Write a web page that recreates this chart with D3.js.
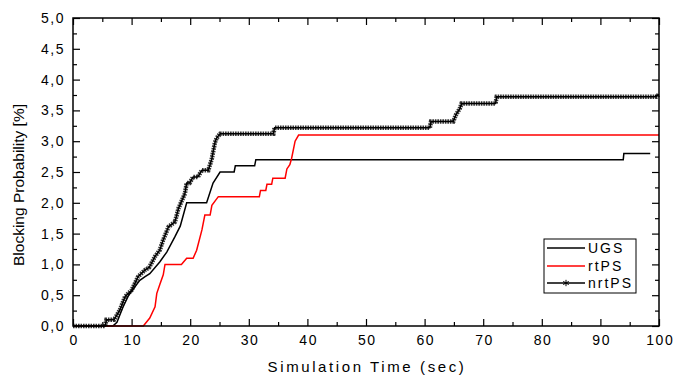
<!DOCTYPE html>
<html><head><meta charset="utf-8">
<script src="https://cdn.jsdelivr.net/npm/d3@7"></script>
<style>
body{margin:0;background:#fff;}
svg{display:block;font-family:Arial,"Liberation Sans",sans-serif;}
</style></head>
<body><svg id="chart" width="675" height="375"></svg>
<script>
// ---- data ----
const xTicks = [0,10,20,30,40,50,60,70,80,90,100];
const yTicks = [0,0.5,1,1.5,2,2.5,3,3.5,4,4.5,5];
const xMinor = [5,15,25,35,45,55,65,75,85,95];
const yMinor = [0.25,0.75,1.25,1.75,2.25,2.75,3.25,3.75,4.25,4.75];
const seriesNames = ["UGS","rtPS","nrtPS"];
const ugsT = [0,6.8,7.5,8.5,9.5,10.6,11.4,12.3,13.1,14.8,16,17.4,18.3,19.4,22.8,23.9,25.1,27.5,27.7,31.0,31.2,93.9,94.0,98.5];
const ugsV = [0,0,0.06,0.3,0.5,0.64,0.74,0.8,0.85,1.04,1.2,1.45,1.62,2.0,2.0,2.32,2.5,2.5,2.6,2.6,2.7,2.7,2.8,2.8];
const rtT = [0,12,13.1,14,14.3,14.8,15.4,15.7,18.5,19.4,20.5,21.1,22,22.5,23.4,23.7,24.8,31.8,32.0,32.9,33.1,33.9,34.1,36.2,36.5,37.0,37.3,37.9,38.5,100];
const rtV = [0,0,0.13,0.31,0.53,0.67,0.83,1.0,1.0,1.1,1.1,1.23,1.56,1.8,1.8,1.96,2.1,2.1,2.2,2.2,2.3,2.3,2.4,2.4,2.55,2.62,2.72,3.0,3.1,3.1];
const nrtT = [0,5.5,5.7,7.0,8,8.9,10,11.1,12.3,13,14,14.8,15.4,16.3,17.4,18,19.1,19.4,19.9,20.5,21.3,22,23.1,23.7,24.2,24.5,25.1,34.2,34.4,60.9,61.1,64.9,65.3,66,66.3,72.1,72.3,99.5,100];
const nrtV = [0,0,0.1,0.1,0.26,0.48,0.58,0.8,0.91,0.95,1.13,1.23,1.4,1.61,1.69,1.91,2.15,2.32,2.32,2.42,2.42,2.53,2.53,2.72,2.97,3.05,3.12,3.12,3.22,3.22,3.32,3.32,3.42,3.53,3.61,3.61,3.72,3.72,3.76];

const svg = d3.select("#chart");
const L=73,R=659,T=18,B=326;
const x = d3.scaleLinear().domain([0,100]).range([L,R]);
const y = d3.scaleLinear().domain([0,5]).range([B,T]);
const fmt = d=>d3.format(".1f")(d).replace(".",",");

function styleAxis(g){
  g.select(".domain").remove();
  g.selectAll("line").attr("stroke","#000").attr("stroke-width",1.2);
  g.selectAll("text").attr("font-size",14).attr("fill","#000").attr("font-family",'Arial,"Liberation Sans",sans-serif');
}
// bottom
svg.append("g").attr("transform",`translate(0,${B})`)
  .call(d3.axisBottom(x).tickValues(xTicks).tickSize(-7).tickPadding(9).tickFormat(d=>d))
  .call(styleAxis).call(g=>g.selectAll("text").attr("letter-spacing","1.5px").attr("dx","0.75px"));
svg.append("g").attr("transform",`translate(0,${B})`)
  .call(d3.axisBottom(x).tickValues(xMinor).tickSize(-4).tickFormat(""))
  .call(styleAxis);
// top
svg.append("g").attr("transform",`translate(0,${T})`)
  .call(d3.axisTop(x).tickValues(xTicks).tickSize(-7).tickFormat(""))
  .call(styleAxis);
svg.append("g").attr("transform",`translate(0,${T})`)
  .call(d3.axisTop(x).tickValues(xMinor).tickSize(-4).tickFormat(""))
  .call(styleAxis);
// left
svg.append("g").attr("transform",`translate(${L},0)`)
  .call(d3.axisLeft(y).tickValues(yTicks).tickSize(-7).tickPadding(8).tickFormat(fmt))
  .call(styleAxis).call(g=>g.selectAll("text").attr("letter-spacing","1.5px"));
svg.append("g").attr("transform",`translate(${L},0)`)
  .call(d3.axisLeft(y).tickValues(yMinor).tickSize(-4).tickFormat(""))
  .call(styleAxis);
// right
svg.append("g").attr("transform",`translate(${R},0)`)
  .call(d3.axisRight(y).tickValues(yTicks).tickSize(-7).tickFormat(""))
  .call(styleAxis);
svg.append("g").attr("transform",`translate(${R},0)`)
  .call(d3.axisRight(y).tickValues(yMinor).tickSize(-4).tickFormat(""))
  .call(styleAxis);

// lines
const line = d3.line().x(d=>x(d[0])).y(d=>y(d[1]));
const ugs = ugsT.map((t,i)=>[t,ugsV[i]]);
const rt = rtT.map((t,i)=>[t,rtV[i]]);
const nrt = nrtT.map((t,i)=>[t,nrtV[i]]);
const plot = svg.append("g");
plot.append("path").datum(ugs).attr("d",line).attr("fill","none").attr("stroke","#000").attr("stroke-width",1.5);
plot.append("path").datum(rt).attr("d",line).attr("fill","none").attr("stroke","#ff0000").attr("stroke-width",1.5);
plot.append("path").datum(nrt).attr("d",line).attr("fill","none").attr("stroke","#000").attr("stroke-width",1.5);
// asterisk-marker band along nrtPS
plot.append("path").datum(nrt).attr("d",line).attr("fill","none").attr("stroke","#000")
  .attr("stroke-width",4.5).attr("stroke-dasharray","1.6,0.9").attr("opacity",0.8);

// frame
svg.append("rect").attr("x",L).attr("y",T).attr("width",R-L).attr("height",B-T)
  .attr("fill","none").attr("stroke","#000").attr("stroke-width",1.5);

// legend
const lg = svg.append("g");
lg.append("rect").attr("x",544).attr("y",239).attr("width",92).attr("height",54)
  .attr("fill","#fff").attr("stroke","#000").attr("stroke-width",1);
const colors = ["#000","#ff0000","#000"];
const rowY = [248,266,283];
seriesNames.forEach((n,i)=>{
  lg.append("line").attr("x1",547).attr("x2",585).attr("y1",rowY[i]).attr("y2",rowY[i])
    .attr("stroke",colors[i]).attr("stroke-width",1.5);
  lg.append("text").attr("x",588).attr("y",rowY[i]).attr("dy","0.36em").attr("font-size",14)
    .attr("letter-spacing","2px").text(n);
});
lg.append("path").attr("transform",`translate(566,${rowY[2]})`)
  .attr("d",d3.symbol(d3.symbolAsterisk,28)()).attr("stroke","#000").attr("stroke-width",1).attr("fill","none");

// titles
svg.append("text").attr("x",367).attr("y",372).attr("text-anchor","middle")
  .attr("font-size",15).attr("letter-spacing","2.6px").text("Simulation Time (sec)");
svg.append("text").attr("transform","translate(24,185) rotate(-90)").attr("text-anchor","middle")
  .attr("font-size",15.5).text("Blocking Probability [%]");
</script></body></html>
